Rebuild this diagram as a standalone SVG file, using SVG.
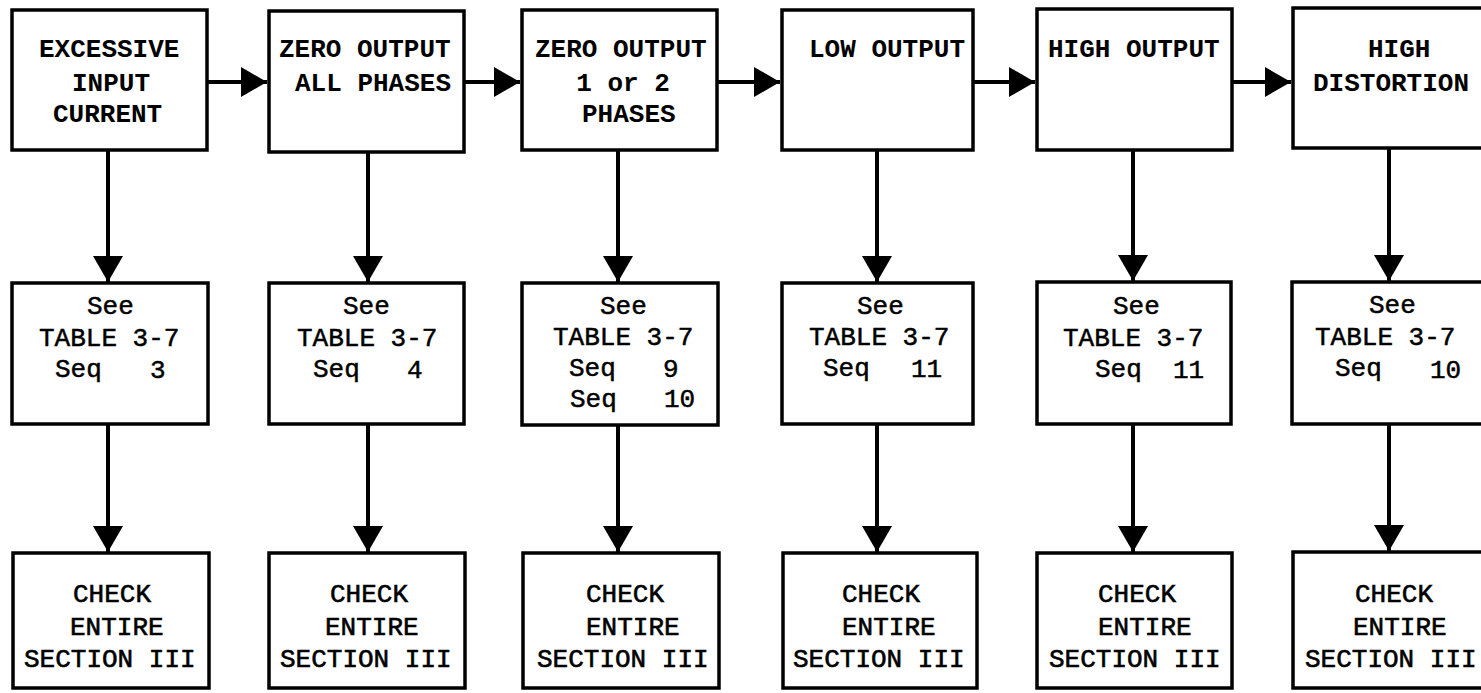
<svg xmlns="http://www.w3.org/2000/svg" width="1481" height="693" viewBox="0 0 1481 693">
<style>
.box{fill:#fff;stroke:#000;stroke-width:3.5}
.con{fill:none;stroke:#000;stroke-width:4}
text{font-family:"Liberation Mono","DejaVu Sans Mono",monospace;font-size:26px;fill:#000}
.t{font-weight:bold}
.m{stroke:#000;stroke-width:0.5}
.b{stroke:#000;stroke-width:0.6}
</style>
<defs>
<marker id="ah" markerUnits="userSpaceOnUse" markerWidth="28" markerHeight="32" refX="26" refY="15" orient="auto">
<path d="M0,0 L26,15 L0,30 Z" fill="#000"/>
</marker>
</defs>
<rect width="1481" height="693" fill="#fff"/>
<g id="connectors">
<line class="con" x1="207" y1="82" x2="267" y2="82" marker-end="url(#ah)"/>
<line class="con" x1="464" y1="82" x2="520" y2="82" marker-end="url(#ah)"/>
<line class="con" x1="717" y1="82" x2="780" y2="82" marker-end="url(#ah)"/>
<line class="con" x1="973" y1="82" x2="1035" y2="82" marker-end="url(#ah)"/>
<line class="con" x1="1232" y1="82" x2="1291" y2="82" marker-end="url(#ah)"/>
<line class="con" x1="108" y1="150" x2="108" y2="282" marker-end="url(#ah)"/>
<line class="con" x1="368" y1="152" x2="368" y2="282" marker-end="url(#ah)"/>
<line class="con" x1="618" y1="150" x2="618" y2="282" marker-end="url(#ah)"/>
<line class="con" x1="877" y1="150" x2="877" y2="282" marker-end="url(#ah)"/>
<line class="con" x1="1133" y1="150" x2="1133" y2="281" marker-end="url(#ah)"/>
<line class="con" x1="1389" y1="148" x2="1389" y2="281" marker-end="url(#ah)"/>
<line class="con" x1="108" y1="424" x2="108" y2="552" marker-end="url(#ah)"/>
<line class="con" x1="368" y1="424" x2="368" y2="552" marker-end="url(#ah)"/>
<line class="con" x1="618" y1="425" x2="618" y2="552" marker-end="url(#ah)"/>
<line class="con" x1="877" y1="424" x2="877" y2="552" marker-end="url(#ah)"/>
<line class="con" x1="1133" y1="424" x2="1133" y2="552" marker-end="url(#ah)"/>
<line class="con" x1="1389" y1="424" x2="1389" y2="551" marker-end="url(#ah)"/>
</g>
<g id="top1"><rect class="box" x="12" y="10" width="195" height="140"/>
<text class="t" x="39" y="57">EXCESSIVE</text><text class="t" x="72" y="91">INPUT</text><text class="t" x="53" y="122">CURRENT</text></g>
<g id="top2"><rect class="box" x="269" y="11" width="195" height="141"/>
<text class="t" x="279" y="57">ZERO OUTPUT</text><text class="t" x="295" y="91">ALL PHASES</text></g>
<g id="top3"><rect class="box" x="522" y="10" width="195" height="140"/>
<text class="t" x="535" y="57">ZERO OUTPUT</text><text class="t" x="623" y="91" text-anchor="middle">1 or 2</text><text class="t" x="582" y="122">PHASES</text></g>
<g id="top4"><rect class="box" x="782" y="10" width="191" height="140"/>
<text class="t" x="809" y="57">LOW OUTPUT</text></g>
<g id="top5"><rect class="box" x="1037" y="9" width="195" height="141"/>
<text class="t" x="1048" y="57">HIGH OUTPUT</text></g>
<g id="top6"><rect class="box" x="1293" y="8" width="210" height="140"/>
<text class="t" x="1368" y="57">HIGH</text><text class="t" x="1313" y="91">DISTORTION</text></g>
<g id="mid1"><rect class="box" x="12" y="283" width="196" height="141"/>
<text class="m" x="87" y="314">See</text><text class="m" x="39" y="346">TABLE 3-7</text><text class="m" x="55" y="377">Seq</text><text class="m" x="150" y="378">3</text></g>
<g id="mid2"><rect class="box" x="269" y="283" width="195" height="141"/>
<text class="m" x="343" y="314">See</text><text class="m" x="297" y="346">TABLE 3-7</text><text class="m" x="313" y="377">Seq</text><text class="m" x="407" y="378">4</text></g>
<g id="mid3"><rect class="box" x="522" y="283" width="196" height="142"/>
<text class="m" x="600" y="314">See</text><text class="m" x="553" y="345">TABLE 3-7</text><text class="m" x="569" y="376">Seq</text><text class="m" x="663" y="377">9</text><text class="m" x="570" y="407">Seq</text><text class="m" x="664" y="407">10</text></g>
<g id="mid4"><rect class="box" x="782" y="283" width="191" height="141"/>
<text class="m" x="857" y="314">See</text><text class="m" x="809" y="345">TABLE 3-7</text><text class="m" x="823" y="376">Seq</text><text class="m" x="911" y="377">11</text></g>
<g id="mid5"><rect class="box" x="1037" y="282" width="194" height="142"/>
<text class="m" x="1113" y="314">See</text><text class="m" x="1063" y="346">TABLE 3-7</text><text class="m" x="1095" y="377">Seq</text><text class="m" x="1173" y="378">11</text></g>
<g id="mid6"><rect class="box" x="1292" y="282" width="211" height="142"/>
<text class="m" x="1369" y="313">See</text><text class="m" x="1315" y="345">TABLE 3-7</text><text class="m" x="1335" y="376">Seq</text><text class="m" x="1430" y="378">10</text></g>
<g id="bot1"><rect class="box" x="13" y="553" width="196" height="135"/>
<text class="b" x="73" y="602">CHECK</text><text class="b" x="70" y="635">ENTIRE</text><text class="b" x="24" y="667">SECTION III</text></g>
<g id="bot2"><rect class="box" x="269" y="553" width="196" height="135"/>
<text class="b" x="330" y="602">CHECK</text><text class="b" x="325" y="635">ENTIRE</text><text class="b" x="280" y="667">SECTION III</text></g>
<g id="bot3"><rect class="box" x="523" y="553" width="196" height="135"/>
<text class="b" x="586" y="602">CHECK</text><text class="b" x="586" y="635">ENTIRE</text><text class="b" x="537" y="667">SECTION III</text></g>
<g id="bot4"><rect class="box" x="783" y="553" width="194" height="135"/>
<text class="b" x="842" y="602">CHECK</text><text class="b" x="842" y="635">ENTIRE</text><text class="b" x="793" y="667">SECTION III</text></g>
<g id="bot5"><rect class="box" x="1037" y="553" width="195" height="135"/>
<text class="b" x="1098" y="602">CHECK</text><text class="b" x="1098" y="635">ENTIRE</text><text class="b" x="1049" y="667">SECTION III</text></g>
<g id="bot6"><rect class="box" x="1293" y="552" width="210" height="136"/>
<text class="b" x="1355" y="602">CHECK</text><text class="b" x="1353" y="635">ENTIRE</text><text class="b" x="1305" y="667">SECTION III</text></g>
</svg>
